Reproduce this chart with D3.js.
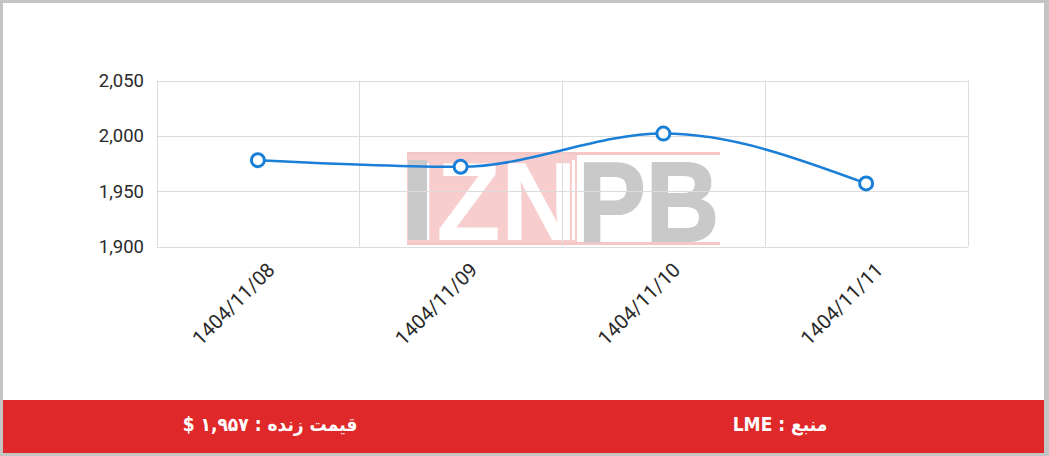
<!DOCTYPE html>
<html>
<head>
<meta charset="utf-8">
<script src="https://cdn.jsdelivr.net/npm/d3@7"></script>
<style>
  body { margin: 0; background: #c4c4c4; }
  svg { display: block; }
</style>
</head>
<body>
<div id="chart"></div>
<script>
var width = 1049,
    height = 456;

// data
var dates = ["1404/11/08", "1404/11/09", "1404/11/10", "1404/11/11"];
var prices = [1978, 1972, 2002, 1957];
var yTicks = [1900, 1950, 2000, 2050];
var livePrice = "قیمت زنده : ۱,۹۵۷ $";
var source = "منبع : LME";

var plot = { left: 156.5, right: 967.5, top: 80.5, bottom: 246.5 };

var svg = d3.select("#chart")
    .append("svg")
    .attr("width", width)
    .attr("height", height);

// white card inside the grey frame
svg.append("rect")
    .attr("x", 3).attr("y", 3)
    .attr("width", 1041).attr("height", 450)
    .attr("fill", "#fff");

var x = d3.scaleBand()
    .domain(dates)
    .range([plot.left, plot.right]);

var y = d3.scaleLinear()
    .domain([1900, 2050])
    .range([plot.bottom, plot.top]);

// watermark
var wm = svg.append("g").attr("opacity", 0.55);
wm.append("rect").attr("x", 407).attr("y", 152).attr("width", 313).attr("height", 3).attr("fill", "#ef9a9a");
wm.append("rect").attr("x", 407).attr("y", 242).attr("width", 313).attr("height", 3).attr("fill", "#ef9a9a");
wm.append("rect").attr("x", 407).attr("y", 155).attr("width", 170).attr("height", 87).attr("fill", "#f1a5a5");
wm.append("text")
    .attr("x", 407).attr("y", 240)
    .attr("font-family", "Liberation Sans, Arial")
    .attr("font-weight", "bold")
    .attr("font-size", 112)
    .attr("textLength", 170)
    .attr("lengthAdjust", "spacingAndGlyphs")
    .attr("fill", "#fff")
    .text("IZN");
wm.append("rect").attr("x", 408).attr("y", 160).attr("width", 19).attr("height", 80).attr("fill", "#9e9e9e");
wm.append("rect").attr("x", 572).attr("y", 160).attr("width", 3).attr("height", 80).attr("fill", "#fff");
wm.append("text")
    .attr("x", 578).attr("y", 241)
    .attr("font-family", "Liberation Sans, Arial")
    .attr("font-weight", "bold")
    .attr("font-size", 114)
    .attr("textLength", 141)
    .attr("lengthAdjust", "spacingAndGlyphs")
    .attr("fill", "#9e9e9e")
    .attr("stroke", "#9e9e9e")
    .attr("stroke-width", 2)
    .text("PB");

// grid
var grid = svg.append("g").attr("stroke", "#dcdcdc").attr("stroke-width", 1);
grid.selectAll(".hg")
    .data(yTicks)
    .join("line")
    .attr("x1", plot.left).attr("x2", plot.right)
    .attr("y1", d => Math.round(y(d)) + 0.5)
    .attr("y2", d => Math.round(y(d)) + 0.5);
var vlines = dates.map(d => x(d)).concat([plot.right]);
grid.selectAll(".vg")
    .data(vlines)
    .join("line")
    .attr("x1", d => Math.round(d) + 0.5).attr("x2", d => Math.round(d) + 0.5)
    .attr("y1", plot.top).attr("y2", plot.bottom);

// y axis labels
svg.append("g")
    .selectAll("text")
    .data(yTicks)
    .join("text")
    .attr("x", 144)
    .attr("y", d => y(d))
    .attr("dy", "0.35em")
    .attr("text-anchor", "end")
    .attr("font-family", "Roboto, sans-serif")
    .attr("font-size", 18.5)
    .attr("fill", "#2a2a2a")
    .text(d => d3.format(",")(d));

// x axis labels, rotated
svg.append("g")
    .selectAll("text")
    .data(dates)
    .join("text")
    .attr("transform", d => `translate(${x(d) + x.bandwidth() / 2 + 8}, 261) rotate(-45)`)
    .attr("text-anchor", "end")
    .attr("dy", "0.72em")
    .attr("font-family", "Roboto, sans-serif")
    .attr("font-size", 20)
    .attr("fill", "#2a2a2a")
    .text(d => d);

// line
var line = d3.line()
    .x((d, i) => x(dates[i]) + x.bandwidth() / 2)
    .y(d => y(d))
    .curve(d3.curveMonotoneX);

svg.append("path")
    .datum(prices)
    .attr("d", line)
    .attr("fill", "none")
    .attr("stroke", "#1a7fd6")
    .attr("stroke-width", 2.5);

svg.selectAll(".dot")
    .data(prices)
    .join("circle")
    .attr("class", "dot")
    .attr("cx", (d, i) => x(dates[i]) + x.bandwidth() / 2)
    .attr("cy", d => y(d))
    .attr("r", 6.5)
    .attr("fill", "#fff")
    .attr("stroke", "#1a7fd6")
    .attr("stroke-width", 3);

// footer
svg.append("rect")
    .attr("x", 3).attr("y", 400)
    .attr("width", 1041).attr("height", 53)
    .attr("fill", "#df2829");

svg.selectAll(".foot")
    .data([{ t: livePrice, x: 270 }, { t: source, x: 780 }])
    .join("text")
    .attr("x", d => d.x)
    .attr("y", 424)
    .attr("dy", "0.35em")
    .attr("text-anchor", "middle")
    .attr("direction", "rtl")
    .attr("font-family", "DejaVu Sans Condensed, DejaVu Sans, sans-serif")
    .attr("font-weight", "bold")
    .attr("font-size", 19)
    .attr("fill", "#fff")
    .text(d => d.t);
</script>
</body>
</html>
